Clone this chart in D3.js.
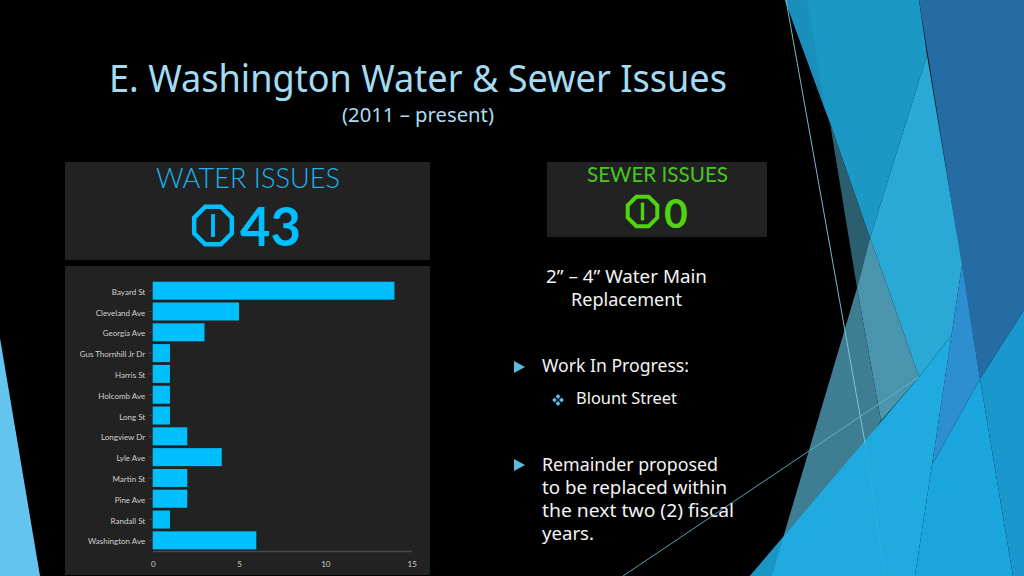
<!DOCTYPE html>
<html><head><meta charset="utf-8">
<script src="https://cdn.jsdelivr.net/npm/d3@7"></script>
<style>html,body{margin:0;padding:0;background:#000}svg{display:block}</style>
</head><body><svg id="c" width="1024" height="576"></svg>
<script>
const categories = ["Bayard St","Cleveland Ave","Georgia Ave","Gus Thornhill Jr Dr","Harris St","Holcomb Ave","Long St","Longview Dr","Lyle Ave","Martin St","Pine Ave","Randall St","Washington Ave"];
const values = [14,5,3,1,1,1,1,2,4,2,2,1,6];
const xTicks = [0,5,10,15];
const bodyFont = "'Noto Sans',sans-serif";
const dashFont = "Lato,sans-serif";

const svg = d3.select("#c");
svg.append("rect").attr("width",1024).attr("height",576).attr("fill","#000");

// decorative background shapes
const shapes = [
 {c:"#63c5ee",p:[[0,338],[40,576],[0,576]]},
 {c:"#1b98c4",p:[[785,0],[919,0],[927,55],[870,238],[830,123]]},
 {c:"#1a8fbb",p:[[785,0],[807,0],[822,90],[827,115]]},
 {c:"#246ca3",p:[[919,0],[1024,0],[1024,310],[980,379]]},
 {c:"#2aa9d6",p:[[927,55],[962,265],[951.5,335],[919,377],[888,288],[870,238]]},
 {c:"#2b5f70",p:[[830,123],[870,238],[857,288]]},
 {c:"#4a95ad",p:[[870,238],[888,288],[919,377],[881,421],[857,288]]},
 {c:"#3f7d92",p:[[857,288],[881,421],[865,443],[783,538]]},
 {c:"#2e8fd0",p:[[962,265],[980,379],[932,465]]},
 {c:"#1fabdf",p:[[919,377],[951.5,335],[932,465],[915,576],[750,576]]},
 {c:"#1a96c4",p:[[783,538],[772,576],[750,576]]},
 {c:"#1aa5dc",p:[[980,379],[1013,576],[915,576],[932,465]]},
 {c:"#1a97cd",p:[[1024,310],[1024,576],[1013,576],[980,379]]}
];
const poly = d3.line();
svg.selectAll("path.bg").data(shapes).join("path").attr("class","bg")
  .attr("d",d=>poly(d.p)+"Z").attr("fill",d=>d.c);
svg.append("path").attr("d",poly([[786,0],[865,443]])).attr("fill","none").attr("stroke","#7fcfe0").attr("stroke-width",0.9);
svg.append("path").attr("d",poly([[865,443],[885,576]])).attr("fill","none").attr("stroke","#30b0de").attr("stroke-width",0.9);
svg.append("path").attr("d",poly([[919,377],[623,576]])).attr("fill","none").attr("stroke","#62b4c6").attr("stroke-width",0.9);

// title
svg.append("text").attr("x",418).attr("y",92).attr("text-anchor","middle").attr("fill","#a3dcf2")
  .attr("font-family",bodyFont).attr("font-size",38).attr("textLength",618).attr("lengthAdjust","spacingAndGlyphs").text("E. Washington Water & Sewer Issues");
svg.append("text").attr("x",418).attr("y",122).attr("text-anchor","middle").attr("fill","#a9def2")
  .attr("font-family",bodyFont).attr("font-size",20).attr("textLength",152).attr("lengthAdjust","spacingAndGlyphs").text("(2011 – present)");

// panels
const panels=[[65,162,365,98],[65,266,365,309],[547,162,220,75]];
svg.selectAll("rect.panel").data(panels).join("rect").attr("class","panel")
  .attr("x",d=>d[0]).attr("y",d=>d[1]).attr("width",d=>d[2]).attr("height",d=>d[3]).attr("fill","#222");

function octagon(cx,cy,r,color,sw){
  const pts=d3.range(8).map(i=>{const a=Math.PI/8+i*Math.PI/4;return [cx+r*Math.cos(a),cy+r*Math.sin(a)];});
  svg.append("path").attr("d",poly(pts)+"Z").attr("fill","none").attr("stroke",color).attr("stroke-width",sw);
  svg.append("line").attr("x1",cx).attr("x2",cx).attr("y1",cy-r*0.56).attr("y2",cy+r*0.56).attr("stroke",color).attr("stroke-width",sw*0.85);
}
const blue="#00bfff", green="#4fd40f";
svg.append("text").attr("x",248).attr("y",188).attr("text-anchor","middle").attr("fill","#1cb4ee").attr("font-family",dashFont).attr("font-weight",300).attr("font-size",28).attr("textLength",184).attr("lengthAdjust","spacingAndGlyphs").text("WATER ISSUES");
octagon(213,225.5,20.4,blue,4.5);
svg.append("text").attr("x",240).attr("y",246).attr("fill",blue).attr("font-family",dashFont).attr("font-weight",700).attr("font-size",53).attr("textLength",61).attr("lengthAdjust","spacingAndGlyphs").text("43");
svg.append("text").attr("x",657.5).attr("y",182).attr("text-anchor","middle").attr("fill","#48c81e").attr("font-family",dashFont).attr("font-size",22).attr("textLength",141).attr("lengthAdjust","spacingAndGlyphs").text("SEWER ISSUES");
octagon(642.5,211.5,16,green,4);
svg.append("text").attr("x",664).attr("y",228).attr("fill",green).attr("font-family",dashFont).attr("font-weight",700).attr("font-size",41).text("0");

// bar chart
const x=d3.scaleLinear().domain([0,15]).range([152.7,411.7]);
const y=d3.scaleBand().domain(categories).range([280.45,550.6]).paddingInner(0.135).paddingOuter(0.06);
const bars=svg.append("g");
bars.selectAll("rect").data(categories).join("rect")
  .attr("x",x(0)).attr("y",d=>y(d)).attr("height",y.bandwidth())
  .attr("width",(d,i)=>x(values[i])-x(0)).attr("fill",blue);
const xa=svg.append("g").attr("transform","translate(0,551)").call(d3.axisBottom(x).tickValues(xTicks).tickSize(0).tickPadding(10));
xa.select(".domain").attr("stroke","#4a4a4a").attr("stroke-width",1.5);
xa.selectAll("text").attr("fill","#d0d0d0").attr("font-family",dashFont).attr("font-size",8);
const ya=svg.append("g").attr("transform","translate(152.7,0)").call(d3.axisLeft(y).tickSize(4).tickPadding(3.5));
ya.select(".domain").remove();
ya.selectAll("line").attr("stroke","#444");
ya.selectAll("text").attr("fill","#d0d0d0").attr("font-family",dashFont).attr("font-size",8).attr("dy","0.5em");

// right column text
const lines=[
 ["2” – 4” Water Main",546,282.5,18.5,161],
 ["Replacement",571,305.5,18.5,111],
 ["Work In Progress:",542,372,18.5,147],
 ["Blount Street",576,404,16.5,101],
 ["Remainder proposed",542,471,18.5,176],
 ["to be replaced within",542,494,18.5,185],
 ["the next two (2) fiscal",542,517,18.5,192],
 ["years.",542,540,18.5,52]
];
svg.selectAll("text.body").data(lines).join("text").attr("class","body")
  .attr("x",d=>d[1]).attr("y",d=>d[2]).attr("font-size",d=>d[3]).attr("textLength",d=>d[4]).attr("lengthAdjust","spacingAndGlyphs")
  .attr("font-family",bodyFont).attr("fill","#f4f4f4").text(d=>d[0]);
const arrows=[[514,361],[514,459]];
svg.selectAll("path.arrow").data(arrows).join("path").attr("class","arrow")
  .attr("d",d=>poly([[d[0],d[1]],[d[0]+11,d[1]+6],[d[0],d[1]+12]])+"Z").attr("fill","#5cbde4");
[[558,396.5],[561.5,400],[558,403.5],[554.5,400]].forEach(p=>svg.append("rect").attr("x",p[0]-1.7).attr("y",p[1]-1.7).attr("width",3.4).attr("height",3.4)
  .attr("transform",`rotate(45 ${p[0]} ${p[1]})`).attr("fill","#5cbde4"));
</script></body></html>
